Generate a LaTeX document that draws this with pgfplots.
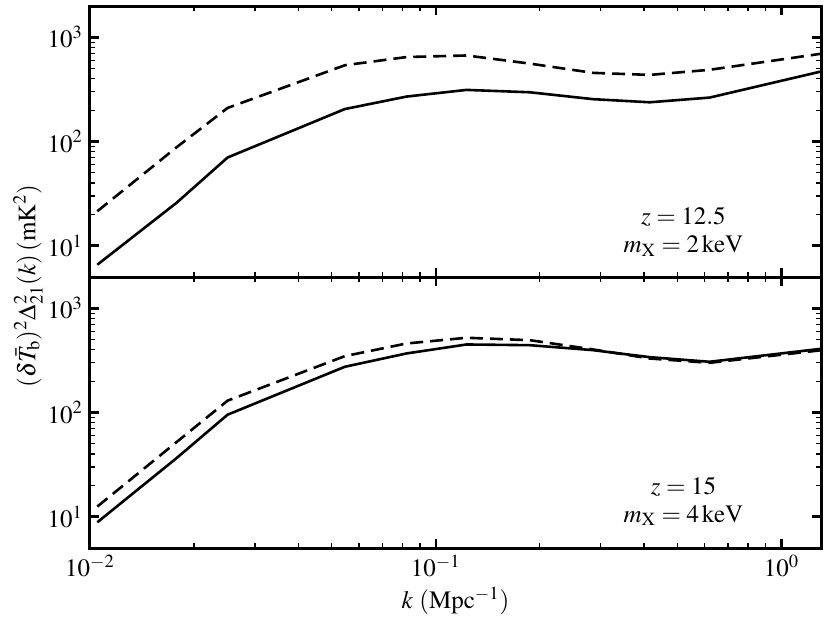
\documentclass[border=0pt]{standalone}
\usepackage{mathptmx}
\usepackage[no-math]{fontspec}
\setmainfont{Liberation Serif}
\usepackage{pgfplots}
\pgfplotsset{compat=1.18}
\begin{document}
\begin{tikzpicture}
\begin{axis}[name=top, anchor=north west, at={(0,0)},
    xmode=log, ymode=log,
    width=365.5pt, height=135.5pt, scale only axis,
    xmin=0.01, xmax=1.3, ymin=5, ymax=2000,
    axis line style={line width=1.5pt},
    major tick length=4.5pt, minor tick length=2.5pt,
    major tick style={line width=1.2pt, black},
    minor tick style={line width=0.6pt, black},
    ytick={10,100,1000},
    tick label style={font=\fontsize{12.5}{14}\selectfont},
    xticklabels={}]
\addplot[black, line width=1.3pt] coordinates {(0.0105,6.56) (0.0178,25.8) (0.025,70.2) (0.0546,205) (0.0823,270) (0.1227,313) (0.187,297) (0.285,255) (0.4155,238) (0.619,264) (1.30,470)};
\addplot[black, line width=1.3pt, dash pattern=on 6.5pt off 3.5pt] coordinates {(0.0105,21.4) (0.0178,88) (0.025,210) (0.0546,540) (0.0823,647) (0.1227,670) (0.187,560) (0.285,456) (0.4155,436) (0.619,488) (1.30,696)};
\node[font=\fontsize{12.5}{14}\selectfont, align=center] at (axis cs:0.52,13.5) {$z = 12.5$\\[0pt]$m_{\rm X} = 2\,{\rm keV}$};
\end{axis}
\begin{axis}[name=bot, anchor=north west, at={(0,-135.5pt)},
    xmode=log, ymode=log,
    width=365.5pt, height=135.5pt, scale only axis,
    xmin=0.01, xmax=1.3, ymin=5, ymax=2000,
    axis line style={line width=1.5pt},
    major tick length=4.5pt, minor tick length=2.5pt,
    major tick style={line width=1.2pt, black},
    minor tick style={line width=0.6pt, black},
    ytick={10,100,1000},
    tick label style={font=\fontsize{12.5}{14}\selectfont},
    xlabel={$k\ ({\rm Mpc}^{-1})$},
    xlabel style={font=\fontsize{12.5}{14}\selectfont, yshift=2pt}]
\addplot[black, line width=1.3pt] coordinates {(0.0105,8.83) (0.0178,36.5) (0.025,95.3) (0.0546,275) (0.0823,369) (0.1227,450) (0.187,443) (0.285,397) (0.4155,340) (0.619,307) (1.3,409)};
\addplot[black, line width=1.3pt, dash pattern=on 6.5pt off 3.5pt] coordinates {(0.0105,12.5) (0.0178,52) (0.025,130) (0.0546,348) (0.0823,460) (0.1227,522) (0.187,495) (0.285,403) (0.4155,330) (0.619,300) (1.3,396)};
\node[font=\fontsize{12.5}{14}\selectfont, align=center] at (axis cs:0.52,14) {$z = 15$\\[0pt]$m_{\rm X} = 4\,{\rm keV}$};
\end{axis}
\node[rotate=90, font=\fontsize{12.5}{14}\selectfont] at (-31pt,-140pt) {$(\delta\bar{T}_{\rm b})^2\Delta^2_{21}(k)\,({\rm mK}^2)$};
\pgfresetboundingbox
\path[use as bounding box] (-45pt,3pt) rectangle (370pt,-308.5pt);
\end{tikzpicture}
\end{document}
